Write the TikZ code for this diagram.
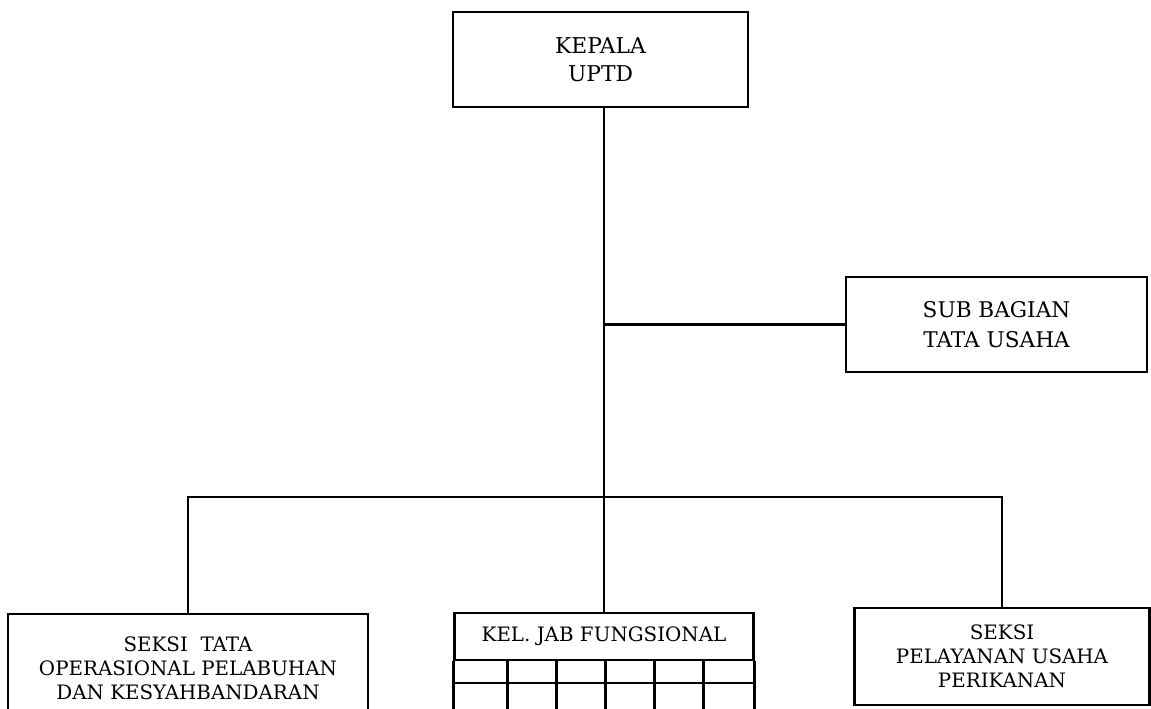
\documentclass[tikz,border=0pt]{standalone}
\usepackage{fontspec}
\setmainfont{DejaVu Serif}
\begin{document}
\begin{tikzpicture}[x=0.02cm,y=-0.02cm,
  line width=1.6pt,
  box/.style={draw, line width=1.6pt, inner sep=0pt, align=center},
  topfont/.style={font=\fontsize{12.4}{16}\selectfont},
  subfont/.style={font=\fontsize{12.3}{17}\selectfont},
  botfont/.style={font=\fontsize{11.3}{13.6}\selectfont}]
\useasboundingbox (0,0) rectangle (1151,708);
\clip (0,0) rectangle (1151,708);
\node[box, topfont, minimum width=5.9cm, minimum height=1.9cm] (top) at (600.5,59.5) {KEPALA\\UPTD};
\node[box, subfont, minimum width=6.02cm, minimum height=1.9cm] (sub) at (996.5,324.5) {SUB BAGIAN\\TATA USAHA};
\node[box, botfont, minimum width=7.2cm, minimum height=2.16cm] (left) at (188,668) {SEKSI\ \ TATA\\OPERASIONAL PELABUHAN\\DAN KESYAHBANDARAN};
\node[box, botfont, minimum width=5.98cm, minimum height=0.94cm] (mid) at (604,636.5) {KEL. JAB FUNGSIONAL};
\node[box, botfont, minimum width=5.9cm, minimum height=1.94cm] (right) at (1002,656.5) {SEKSI\\PELAYANAN USAHA\\PERIKANAN};
\coordinate (bus) at (604,497);
% grid below KEL. JAB FUNGSIONAL
\draw (mid.south west) -- ++(0,60);
\draw (mid.south east) -- ++(0,60);
\foreach \gx in {507.5,556.5,605.5,654.5,703.5} {\draw (\gx,660) -- (\gx,720);}
\draw (454.5,683) -- (753.5,683);
% connectors
\draw (top.south -| mid.north) -- (mid.north);
\draw (sub.west -| mid.north) -- (sub.west);
\draw (left.north) -- (left.north |- bus) -- (right.north |- bus) -- (right.north);
\end{tikzpicture}
\end{document}
